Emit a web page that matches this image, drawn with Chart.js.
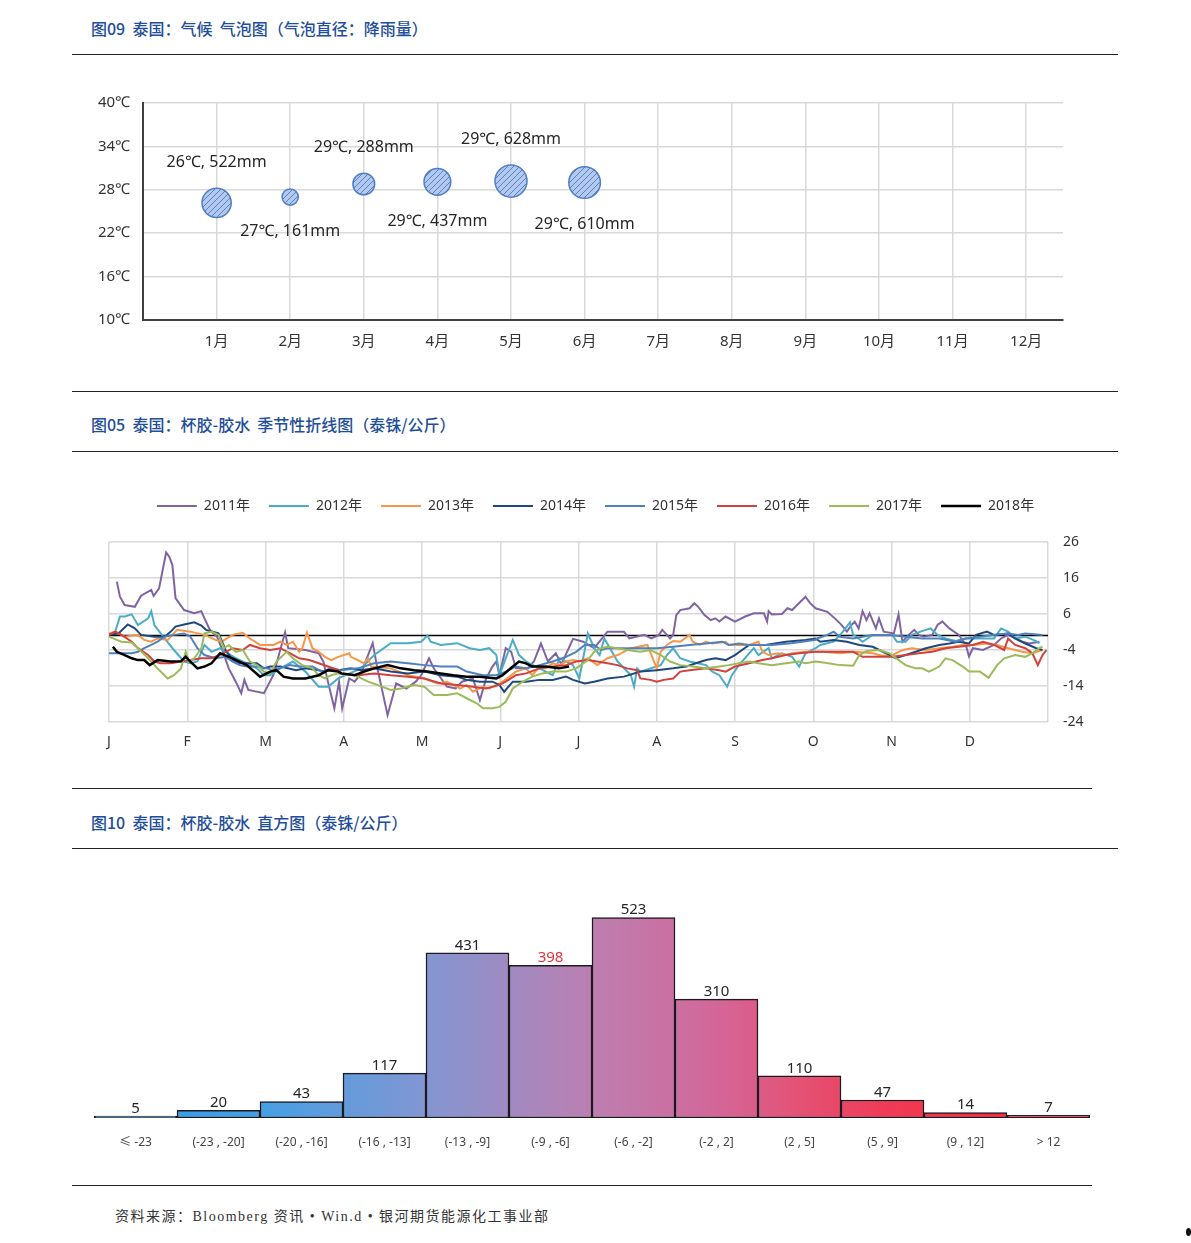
<!DOCTYPE html>
<html>
<head>
<meta charset="utf-8">
<script src="https://cdn.jsdelivr.net/npm/chart.js@4.4.1/dist/chart.umd.min.js"></script>
<style>
body{margin:0;background:#fff;width:1191px;height:1243px;position:relative;overflow:hidden;font-family:'Noto Sans CJK SC',sans-serif}
.t{position:absolute;left:91px;font-size:16px;color:#1f4e9b;font-weight:500;line-height:20px;white-space:pre}
.r{position:absolute;left:72px;height:0;border-top:1.5px solid #222}
canvas{position:absolute;left:0}
.src{position:absolute;left:115px;top:1205px;font-family:'Liberation Serif','Noto Sans CJK SC',serif;font-size:14px;letter-spacing:1.5px;color:#333}
</style>
</head>
<body>
<div class="t" style="top:18px">图09  泰国：气候  气泡图（气泡直径：降雨量）</div>
<div class="r" style="top:54px;width:1046px"></div>
<canvas id="bubble" width="1191" height="290" style="top:80px"></canvas>
<div class="r" style="top:391px;width:1046px"></div>
<div class="t" style="top:414px">图05  泰国：杯胶-胶水  季节性折线图（泰铢/公斤）</div>
<div class="r" style="top:451px;width:1046px"></div>
<canvas id="season" width="1191" height="290" style="top:480px"></canvas>
<div class="r" style="top:788px;width:1020px"></div>
<div class="t" style="top:812px">图10  泰国：杯胶-胶水  直方图（泰铢/公斤）</div>
<div class="r" style="top:848px;width:1046px"></div>
<canvas id="hist" width="1191" height="300" style="top:860px"></canvas>
<div class="r" style="top:1185px;width:1020px"></div>
<div class="src">资料来源：Bloomberg 资讯 • Win.d • 银河期货能源化工事业部</div>
<div style="position:absolute;left:1186px;top:1228px;width:5px;height:8px;border-radius:50%;background:#111"></div>
<script>
// bubble chart: temperature (y) and rainfall (bubble size) per month
const monthNums = [1, 2, 3, 4, 5, 6];
const monthLabels = ['1月','2月','3月','4月','5月','6月','7月','8月','9月','10月','11月','12月'];
const temps = [26.2, 27.0, 28.8, 29.1, 29.2, 29.0];
const rainfall = [522, 161, 288, 437, 628, 610];

// seasonal lines: [month position, price spread]
const seasonLetters = ['J','F','M','A','M','J','J','A','S','O','N','D'];
const years = ['2011年','2012年','2013年','2014年','2015年','2016年','2017年','2018年'];
const yearColors = ['#8064a2','#4bacc6','#f79646','#1f497d','#4f81bd','#d0423d','#9bbb59','#000000'];

const y2011 = [[0.10,15.0],[0.14,10.8],[0.20,8.5],[0.33,8.0],[0.41,11.1],[0.54,12.7],[0.57,11.0],[0.64,13.1],[0.73,23.1],[0.77,21.9],[0.81,19.6],[0.85,10.4],[0.96,7.1],[1.09,6.2],[1.18,6.8],[1.22,4.8],[1.29,1.6],[1.38,-0.3],[1.44,-3.5],[1.53,-9.1],[1.62,-12.8],[1.69,-16.0],[1.73,-12.3],[1.78,-15.1],[1.98,-16.0],[2.10,-11.0],[2.25,0.9],[2.29,-3.5],[2.51,-4.0],[2.68,-4.9],[2.74,-7.2],[2.80,-13.0],[2.88,-20.2],[2.94,-12.8],[2.98,-20.2],[3.07,-11.9],[3.14,-12.8],[3.22,-10.5],[3.37,-2.1],[3.43,-9.1],[3.56,-22.1],[3.67,-13.3],[3.80,-14.7],[3.92,-12.8],[3.99,-11.0],[4.09,-6.3],[4.15,-9.1],[4.32,-14.2],[4.43,-14.7],[4.51,-12.8],[4.65,-11.9],[4.74,-17.9],[4.82,-11.9],[4.90,-8.6],[4.95,-7.2],[4.99,-11.0],[5.07,-3.5],[5.14,-4.5],[5.20,-9.1],[5.35,-9.1],[5.43,-7.2],[5.52,-2.2],[5.61,-7.2],[5.71,-4.9],[5.78,-8.0],[5.93,-0.9],[6.06,-1.7],[6.20,-3.5],[6.37,1.1],[6.58,1.1],[6.65,-0.8],[6.84,0.2],[6.93,-0.8],[7.03,0.2],[7.07,1.6],[7.13,0.2],[7.17,-0.8],[7.21,0.2],[7.25,5.7],[7.30,7.1],[7.42,7.6],[7.48,9.0],[7.53,8.0],[7.61,5.7],[7.69,4.3],[7.75,4.8],[7.80,3.9],[7.88,5.3],[8.00,3.9],[8.13,5.3],[8.24,6.2],[8.37,6.2],[8.41,3.9],[8.43,6.8],[8.47,5.9],[8.60,6.0],[8.67,7.6],[8.73,7.1],[8.90,10.8],[8.96,9.0],[9.03,7.6],[9.18,6.6],[9.30,4.3],[9.36,3.0],[9.43,1.1],[9.49,3.0],[9.53,3.9],[9.58,2.0],[9.63,6.8],[9.68,4.3],[9.72,6.2],[9.80,2.0],[9.84,4.8],[9.90,1.1],[10.03,0.6],[10.09,5.9],[10.14,-1.7],[10.22,0.2],[10.29,1.6],[10.35,0.2],[10.41,-0.3],[10.52,0.2],[10.59,3.0],[10.65,3.9],[10.74,2.0],[10.86,0.2],[10.95,-2.6],[10.99,-5.8],[11.04,-3.5],[11.17,-4.0],[11.31,-2.6],[11.40,-0.8],[11.49,0.2],[11.67,-1.7],[11.76,-2.2],[11.89,-1.7]];
const y2012 = [[0.00,0.2],[0.08,1.1],[0.14,5.3],[0.20,5.3],[0.29,5.9],[0.37,2.9],[0.50,4.8],[0.54,6.8],[0.58,2.9],[0.71,-0.8],[0.83,-4.0],[0.96,-7.2],[1.04,-7.7],[1.13,-7.2],[1.22,-2.6],[1.31,-4.5],[1.42,-3.5],[1.62,-6.3],[1.76,-7.7],[1.89,-9.1],[1.98,-11.0],[2.06,-11.0],[2.19,-9.1],[2.35,-7.2],[2.51,-10.0],[2.68,-14.2],[2.80,-14.2],[2.93,-11.9],[3.22,-9.1],[3.39,-5.4],[3.60,-2.1],[3.82,-2.1],[3.99,-1.7],[4.07,0.0],[4.11,-1.7],[4.24,-2.6],[4.45,-2.1],[4.61,-3.5],[4.74,-4.0],[4.86,-3.5],[4.95,-5.4],[4.99,-11.0],[5.07,-6.3],[5.16,-1.2],[5.24,-5.4],[5.33,-7.2],[5.50,-9.1],[5.67,-11.0],[5.76,-6.3],[5.93,-8.2],[6.01,-11.9],[6.12,0.6],[6.20,-3.5],[6.27,-5.4],[6.33,-0.8],[6.50,-7.2],[6.67,-11.0],[6.71,-14.2],[6.75,-9.1],[6.79,-10.0],[7.05,-8.2],[7.13,-5.4],[7.21,-3.5],[7.30,-6.3],[7.42,-7.2],[7.63,-8.2],[7.71,-10.0],[7.80,-11.0],[7.90,-14.2],[7.96,-11.0],[8.05,-8.2],[8.24,-3.5],[8.30,-5.4],[8.43,-3.5],[8.47,-6.3],[8.60,-4.9],[8.73,-5.9],[8.82,-8.6],[8.90,-4.9],[9.03,-3.5],[9.09,-2.6],[9.26,-1.7],[9.38,1.1],[9.47,3.7],[9.51,0.2],[9.55,-0.3],[9.63,-1.7],[9.76,0.2],[10.01,0.2],[10.07,-1.7],[10.18,-1.7],[10.26,0.2],[10.37,1.1],[10.50,2.0],[10.59,0.2],[10.69,-0.8],[10.82,-1.5],[10.95,-0.8],[11.31,-0.8],[11.40,2.0],[11.49,1.1],[11.58,-0.8],[11.71,-0.3],[11.85,-1.5],[11.89,-2.2]];
const y2013 = [[0.00,0.6],[0.08,1.1],[0.20,-0.3],[0.37,0.2],[0.45,-1.2],[0.54,-1.7],[0.62,-0.8],[0.75,-1.2],[0.87,1.6],[1.04,1.1],[1.22,0.2],[1.36,-1.2],[1.44,-1.7],[1.58,0.2],[1.71,0.8],[1.80,-0.8],[1.93,-2.6],[2.10,-2.6],[2.19,-1.7],[2.27,-2.6],[2.35,-1.7],[2.43,-4.5],[2.47,-3.5],[2.53,0.8],[2.60,-3.5],[2.68,-4.5],[2.76,-5.9],[2.84,-6.8],[2.93,-5.9],[3.07,-4.9],[3.09,-5.9],[3.18,-6.8],[3.26,-7.7],[3.31,-6.3],[3.35,-8.6],[3.60,-9.1],[3.82,-11.0],[4.03,-11.9],[4.20,-13.3],[4.32,-12.8],[4.49,-14.7],[4.57,-13.7],[4.65,-15.6],[4.78,-14.2],[4.86,-14.7],[4.95,-13.7],[5.03,-12.8],[5.12,-11.4],[5.20,-10.0],[5.33,-9.1],[5.41,-11.0],[5.50,-8.6],[5.58,-9.1],[5.67,-7.7],[5.76,-8.2],[5.84,-7.2],[5.93,-6.8],[6.01,-7.2],[6.12,-6.3],[6.24,-8.2],[6.37,-6.3],[6.50,-5.4],[6.67,-3.5],[6.88,-2.6],[7.00,-9.1],[7.05,-4.5],[7.13,-2.6],[7.21,-1.5],[7.30,-1.7],[7.42,0.2],[7.46,-1.7],[7.55,-2.6],[7.63,-1.7],[7.71,-2.2],[7.88,-1.7],[7.92,-2.6],[8.18,-2.6],[8.30,-1.7],[8.35,-4.5],[8.43,-5.4],[8.56,-4.9],[8.65,-5.4],[8.73,-4.9],[8.90,-4.5],[9.13,-4.5],[9.34,-4.9],[9.55,-4.5],[9.76,-4.9],[9.88,-5.6],[10.01,-5.4],[10.14,-4.0],[10.26,-3.5],[10.44,-4.0],[10.61,-3.5],[10.78,-3.1],[10.91,-2.6],[11.04,-2.6],[11.22,-2.2],[11.35,-2.6],[11.49,-3.5],[11.67,-4.5],[11.80,-4.9],[11.93,-4.0]];
const y2014 = [[0.00,0.2],[0.12,0.6],[0.24,3.1],[0.33,2.0],[0.41,0.2],[0.58,-0.3],[0.71,-0.3],[0.79,1.1],[0.85,2.5],[0.96,3.1],[1.09,3.7],[1.18,2.8],[1.24,1.6],[1.40,0.6],[1.49,-4.0],[1.58,-6.8],[1.67,-7.7],[1.89,-7.7],[1.98,-9.1],[2.06,-8.6],[2.19,-8.6],[2.39,-9.6],[2.51,-9.1],[2.68,-9.6],[2.76,-10.0],[2.84,-9.1],[2.93,-9.6],[3.09,-9.1],[3.22,-9.6],[3.39,-9.1],[3.60,-10.0],[3.82,-10.5],[4.03,-10.0],[4.24,-11.0],[4.45,-11.4],[4.57,-12.3],[4.74,-12.8],[4.90,-12.8],[4.99,-13.7],[5.05,-15.6],[5.16,-12.8],[5.33,-12.8],[5.50,-12.3],[5.67,-12.3],[5.84,-11.4],[5.93,-12.3],[6.08,-13.3],[6.20,-12.8],[6.37,-11.9],[6.58,-11.4],[6.79,-10.0],[7.00,-9.6],[7.21,-9.1],[7.38,-8.6],[7.50,-7.7],[7.63,-6.8],[7.75,-6.3],[7.88,-6.8],[8.00,-5.4],[8.09,-4.0],[8.18,-2.6],[8.39,-2.6],[8.65,-1.7],[8.90,-1.2],[9.03,-0.8],[9.09,-1.7],[9.26,-1.2],[9.43,-1.7],[9.59,-2.6],[9.76,-3.1],[9.93,-4.9],[10.05,-6.3],[10.18,-5.4],[10.31,-4.5],[10.44,-3.5],[10.61,-2.6],[10.74,-2.2],[10.86,-1.7],[10.99,-2.2],[11.08,0.2],[11.22,1.1],[11.31,0.2],[11.49,0.6],[11.58,-0.8],[11.71,-2.2],[11.85,-3.5],[11.93,-4.0]];
const y2015 = [[0.00,-4.9],[0.29,-4.9],[0.37,-4.5],[0.45,-3.5],[0.54,-2.6],[0.62,-1.7],[0.71,-0.3],[0.83,0.2],[0.96,0.6],[1.04,-0.3],[1.13,-3.5],[1.22,-5.4],[1.36,-6.3],[1.49,-5.9],[1.58,-7.2],[1.67,-8.2],[1.76,-8.6],[1.89,-8.6],[2.02,-9.1],[2.10,-9.6],[2.31,-8.2],[2.43,-8.6],[2.60,-8.6],[2.72,-10.0],[2.84,-9.1],[2.96,-9.6],[3.18,-9.1],[3.39,-7.7],[3.60,-7.2],[3.82,-7.7],[4.03,-8.2],[4.24,-8.6],[4.45,-8.6],[4.57,-10.0],[4.78,-11.0],[4.95,-11.0],[5.07,-10.0],[5.20,-8.6],[5.33,-9.1],[5.50,-8.2],[5.67,-7.2],[5.84,-5.9],[5.97,-4.5],[6.08,-2.6],[6.20,-2.6],[6.29,-4.0],[6.37,-3.5],[7.00,-3.5],[7.21,-3.1],[7.42,-2.6],[7.63,-2.2],[7.84,-1.7],[7.92,-2.6],[8.05,-2.2],[8.18,-2.6],[8.47,-2.6],[8.69,-2.2],[8.86,-1.7],[9.03,-1.2],[9.05,-0.8],[9.18,0.2],[9.26,1.1],[9.34,-0.3],[9.51,-0.8],[9.63,-0.3],[9.76,0.2],[9.97,0.2],[10.18,-0.3],[10.39,-0.8],[10.61,-0.8],[10.82,-1.7],[10.95,-0.8],[11.13,-0.3],[11.31,0.2],[11.49,0.6],[11.62,0.2],[11.71,0.6],[11.93,0.2]];
const y2016 = [[0.00,0.2],[0.08,1.1],[0.16,0.2],[0.29,-1.7],[0.37,-3.5],[0.50,-5.4],[0.58,-7.2],[0.66,-7.7],[0.79,-7.7],[0.92,-7.2],[1.04,-6.8],[1.18,-6.3],[1.31,-6.3],[1.42,-5.4],[1.58,-3.5],[1.71,-4.0],[1.80,-2.6],[1.93,-3.5],[2.06,-4.0],[2.19,-3.5],[2.31,-4.9],[2.43,-6.3],[2.56,-6.8],[2.68,-7.7],[2.80,-8.6],[2.93,-9.6],[2.97,-10.5],[3.18,-11.0],[3.39,-10.5],[3.60,-11.0],[3.82,-11.4],[4.03,-11.9],[4.24,-13.3],[4.45,-13.7],[4.65,-14.2],[4.82,-14.7],[4.99,-13.7],[5.07,-12.8],[5.20,-11.0],[5.33,-10.5],[5.50,-9.1],[5.67,-8.6],[5.84,-8.2],[5.97,-7.2],[6.12,-6.8],[6.24,-7.2],[6.37,-7.7],[6.50,-8.2],[6.62,-9.1],[6.75,-9.6],[6.79,-11.9],[6.92,-12.3],[7.00,-12.8],[7.09,-12.3],[7.21,-11.9],[7.30,-10.0],[7.42,-9.6],[7.63,-9.1],[7.80,-9.6],[7.88,-10.0],[8.00,-8.6],[8.18,-7.7],[8.35,-6.8],[8.47,-6.3],[8.65,-5.4],[8.82,-4.9],[9.03,-4.5],[9.34,-4.5],[9.51,-4.5],[9.63,-5.9],[10.01,-5.9],[10.18,-5.4],[10.35,-4.9],[10.52,-4.5],[10.69,-3.5],[10.86,-3.1],[11.04,-2.6],[11.17,-1.7],[11.31,-2.6],[11.44,-4.0],[11.49,-0.8],[11.58,-2.6],[11.71,-3.5],[11.80,-4.9],[11.87,-8.2],[11.93,-5.4],[11.98,-4.0]];
const y2017 = [[0.00,-0.3],[0.10,-1.2],[0.16,-1.7],[0.29,-1.9],[0.37,-3.5],[0.50,-6.3],[0.62,-9.1],[0.75,-11.9],[0.83,-11.0],[0.92,-9.1],[0.98,-4.5],[1.02,-7.2],[1.09,-6.3],[1.18,-3.5],[1.22,0.6],[1.31,1.1],[1.40,0.2],[1.47,-3.5],[1.53,-2.6],[1.62,-4.5],[1.71,-4.0],[1.80,-7.2],[1.89,-8.2],[1.98,-10.0],[2.06,-10.5],[2.14,-7.2],[2.27,-4.5],[2.35,-6.3],[2.47,-8.2],[2.60,-9.1],[2.68,-11.0],[2.76,-11.9],[2.84,-11.0],[2.93,-10.5],[3.14,-11.0],[3.31,-12.8],[3.43,-13.7],[3.60,-15.1],[3.73,-14.7],[3.90,-13.7],[4.03,-14.2],[4.15,-16.5],[4.32,-16.5],[4.45,-16.0],[4.57,-17.4],[4.70,-18.8],[4.78,-20.2],[4.90,-20.2],[4.99,-19.8],[5.07,-18.4],[5.16,-14.7],[5.29,-12.8],[5.41,-11.4],[5.54,-10.5],[5.67,-10.0],[5.84,-10.0],[5.97,-9.1],[6.03,-8.2],[6.12,-6.8],[6.20,-4.5],[6.29,-3.5],[6.37,-3.1],[6.50,-3.5],[6.62,-4.0],[6.79,-4.5],[6.92,-4.0],[7.05,-5.4],[7.17,-7.2],[7.30,-8.2],[7.46,-8.6],[7.63,-9.1],[7.80,-8.6],[7.92,-8.2],[8.05,-7.7],[8.18,-7.2],[8.30,-7.7],[8.47,-8.2],[8.65,-7.7],[8.82,-7.2],[8.90,-7.7],[9.03,-7.2],[9.13,-7.5],[9.34,-8.2],[9.51,-8.4],[9.59,-5.4],[9.68,-4.3],[9.84,-4.0],[9.97,-4.9],[10.18,-8.2],[10.31,-9.1],[10.39,-9.1],[10.48,-10.0],[10.61,-8.6],[10.69,-6.3],[10.78,-6.8],[10.91,-8.6],[10.99,-10.0],[11.13,-10.0],[11.24,-11.7],[11.35,-8.2],[11.44,-6.3],[11.58,-5.4],[11.71,-5.9],[11.80,-4.9],[11.89,-3.5],[11.93,-3.1]];
const y2018 = [[0.05,-3.1],[0.10,-4.5],[0.20,-5.4],[0.29,-6.3],[0.37,-6.8],[0.45,-6.8],[0.52,-8.2],[0.62,-6.8],[0.79,-7.2],[0.92,-7.1],[0.98,-5.9],[1.04,-7.2],[1.13,-9.1],[1.22,-8.6],[1.31,-7.7],[1.42,-4.9],[1.58,-6.3],[1.76,-8.2],[1.93,-11.4],[2.06,-10.0],[2.14,-9.6],[2.23,-11.4],[2.35,-11.9],[2.51,-11.9],[2.68,-11.0],[2.80,-9.6],[2.93,-10.0],[2.97,-10.5],[3.14,-11.0],[3.26,-10.0],[3.39,-9.1],[3.56,-8.2],[3.73,-9.1],[3.90,-9.6],[4.07,-10.0],[4.24,-10.5],[4.40,-11.0],[4.57,-11.4],[4.74,-11.4],[4.95,-11.9],[5.03,-11.0],[5.16,-8.6],[5.24,-7.2],[5.33,-7.7],[5.41,-8.6],[5.58,-8.6],[5.75,-9.1],[5.88,-8.6]];
const seasonSeries = [y2011, y2012, y2013, y2014, y2015, y2016, y2017, y2018];

// histogram
const binLabels = ['≤ -23','(-23 , -20]','(-20 , -16]','(-16 , -13]','(-13 , -9]','(-9 , -6]','(-6 , -2]','(-2 , 2]','(2 , 5]','(5 , 9]','(9 , 12]','> 12'];
const binCounts = [5, 20, 43, 117, 431, 398, 523, 310, 110, 47, 14, 7];

Chart.defaults.font.family = "'Noto Sans', 'Noto Sans CJK SC', sans-serif";
Chart.defaults.color = '#333';
Chart.defaults.animation = false;

function hatchPattern() {
  const c = document.createElement('canvas');
  c.width = 6; c.height = 6;
  const g = c.getContext('2d');
  g.fillStyle = '#b3c9ee';
  g.fillRect(0, 0, 6, 6);
  g.strokeStyle = '#5582c8';
  g.lineWidth = 1;
  g.beginPath();
  g.moveTo(0, 6); g.lineTo(6, 0);
  g.moveTo(-3, 3); g.lineTo(3, -3);
  g.moveTo(3, 9); g.lineTo(9, 3);
  g.stroke();
  return g.createPattern(c, 'repeat');
}

const bubbleLabels = {
  id: 'bubbleLabels',
  afterDatasetsDraw(chart) {
    const ctx = chart.ctx;
    ctx.save();
    ctx.font = "16px 'Noto Sans', 'Noto Sans CJK SC'";
    ctx.fillStyle = '#262626';
    ctx.textAlign = 'center';
    ctx.textBaseline = 'middle';
    chart.getDatasetMeta(0).data.forEach((pt, i) => {
      const r = pt.options.radius;
      const dy = (i % 2 === 0 ? -1 : 1) * (r + 26);
      ctx.fillText(Math.round(temps[i]) + '℃, ' + rainfall[i] + 'mm', pt.x, pt.y + dy);
    });
    ctx.restore();
  }
};

new Chart('bubble', {
  type: 'bubble',
  data: {
    datasets: [{
      data: monthNums.map((m, i) => ({ x: m, y: temps[i], r: 0.64 * Math.sqrt(rainfall[i]) })),
      backgroundColor: hatchPattern(),
      borderColor: '#4f7fc6',
      borderWidth: 1.5
    }]
  },
  options: {
    responsive: false,
    layout: { padding: { left: 0, right: 128, top: 23, bottom: 0 } },
    plugins: { legend: { display: false }, tooltip: { enabled: false } },
    scales: {
      x: {
        type: 'linear', min: 0, max: 12.5,
        afterFit(s) { s.height = 50; },
        ticks: { stepSize: 1, includeBounds: false, padding: 13, font: { size: 15 }, color: '#333',
          callback: v => monthLabels[v - 1] || '' },
        grid: { color: ctx => ctx.tick && ctx.tick.value > 0 ? '#d9d9d9' : 'rgba(0,0,0,0)', lineWidth: 1.5, drawTicks: false },
        border: { color: '#404040', width: 2 }
      },
      y: {
        min: 10, max: 40,
        afterFit(s) { s.width = 143; },
        ticks: { stepSize: 6, padding: 13, font: { size: 15 }, color: '#333', callback: v => v + '℃' },
        grid: { color: '#d9d9d9', lineWidth: 1.5, drawTicks: false },
        border: { color: '#404040', width: 2 }
      }
    }
  },
  plugins: [bubbleLabels]
});

const zeroLine = {
  id: 'zeroLine',
  beforeDatasetsDraw(chart) {
    const { ctx, chartArea, scales } = chart;
    const y = scales.y.getPixelForValue(0);
    ctx.save();
    ctx.strokeStyle = '#000';
    ctx.lineWidth = 1.5;
    ctx.beginPath();
    ctx.moveTo(chartArea.left, y);
    ctx.lineTo(chartArea.right, y);
    ctx.stroke();
    ctx.restore();
  }
};

const legendHeight = {
  id: 'legendHeight',
  beforeInit(chart) {
    const fit = chart.legend.fit;
    chart.legend.fit = function () { fit.call(this); this.height = 62; };
  }
};

new Chart('season', {
  type: 'line',
  data: {
    datasets: years.map((name, i) => ({
      label: name,
      data: seasonSeries[i].map(p => ({ x: p[0], y: p[1] })),
      borderColor: yearColors[i],
      backgroundColor: yearColors[i],
      borderWidth: i === 7 ? 2.5 : 2,
      pointRadius: 0,
      tension: 0,
      order: 8 - i
    }))
  },
  options: {
    responsive: false,
    layout: { padding: 0 },
    plugins: {
      tooltip: { enabled: false },
      legend: {
        labels: {
          usePointStyle: true, pointStyle: 'line', pointStyleWidth: 40,
          padding: 19, font: { size: 14 }, color: '#333',
          sort: (a, b) => a.datasetIndex - b.datasetIndex
        }
      }
    },
    scales: {
      x: {
        type: 'linear', min: 0, max: 12,
        afterFit(s) { s.height = 48; },
        ticks: { stepSize: 1, padding: 12, autoSkip: false, maxRotation: 0, font: { size: 14 }, color: '#333',
          callback: v => seasonLetters[v] || '' },
        grid: { color: '#d9d9d9', lineWidth: 1.5, drawTicks: false },
        border: { display: false }
      },
      y: {
        position: 'right', min: -24, max: 26,
        afterFit(s) { s.width = 143; },
        ticks: { stepSize: 10, padding: 15, font: { size: 14 }, color: '#333' },
        grid: { color: '#d9d9d9', lineWidth: 1.5, drawTicks: false },
        border: { display: false }
      },
      // empty left axis that only reserves the margin, so the legend stays centred on the page
      yLeft: {
        position: 'left', min: -24, max: 26,
        afterFit(s) { s.width = 109; },
        ticks: { display: false },
        grid: { display: false, drawTicks: false },
        border: { display: false }
      }
    }
  },
  plugins: [zeroLine, legendHeight]
});

const barLabels = {
  id: 'barLabels',
  afterDatasetsDraw(chart) {
    const ctx = chart.ctx;
    ctx.save();
    ctx.font = "15px 'Noto Sans'";
    ctx.textAlign = 'center';
    ctx.textBaseline = 'bottom';
    chart.getDatasetMeta(0).data.forEach((bar, i) => {
      ctx.fillStyle = i === 5 ? '#e8303a' : '#262626';
      ctx.fillText(String(binCounts[i]), bar.x, bar.y);
    });
    ctx.restore();
  }
};

new Chart('hist', {
  type: 'bar',
  data: {
    labels: binLabels,
    datasets: [{
      data: binCounts,
      backgroundColor: ctx => {
        const a = ctx.chart.chartArea;
        if (!a) return '#999';
        const g = ctx.chart.ctx.createLinearGradient(a.left, 0, a.right, 0);
        g.addColorStop(0, '#2a9cea');
        g.addColorStop(0.17, '#45a0e4');
        g.addColorStop(0.33, '#8196d2');
        g.addColorStop(0.5, '#bc7fb0');
        g.addColorStop(0.62, '#d2689a');
        g.addColorStop(0.7, '#e25478');
        g.addColorStop(0.8, '#f03a55');
        g.addColorStop(0.9, '#f72f40');
        g.addColorStop(1, '#ff2a3a');
        return g;
      },
      borderColor: '#1e1a22',
      borderWidth: 1.5,
      borderSkipped: false,
      barPercentage: 1,
      categoryPercentage: 1
    }]
  },
  options: {
    responsive: false,
    layout: { padding: { left: 94, right: 101, top: 28, bottom: 0 } },
    plugins: { legend: { display: false }, tooltip: { enabled: false } },
    scales: {
      x: {
        afterFit(s) { s.height = 42; },
        ticks: { padding: 9, autoSkip: false, maxRotation: 0, font: { size: 12 }, color: '#444' },
        grid: { display: false },
        border: { display: false }
      },
      y: { display: false, min: 0, max: 600 }
    }
  },
  plugins: [barLabels]
});
</script>
</body>
</html>
